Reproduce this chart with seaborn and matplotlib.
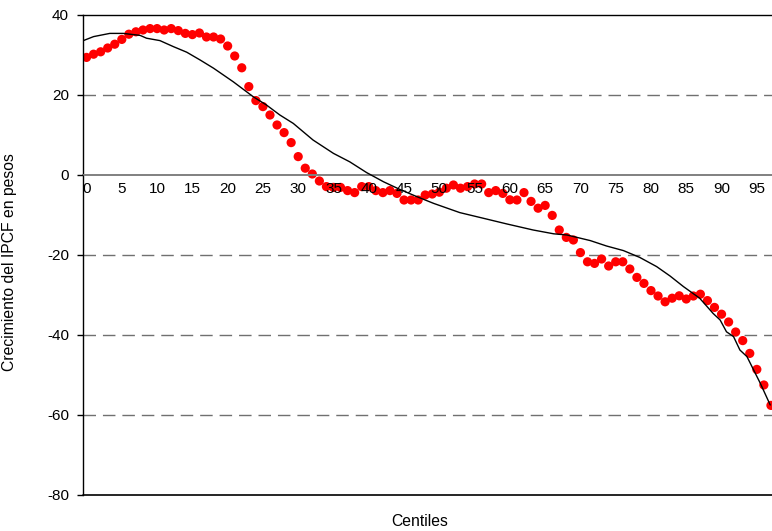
import numpy as np
import pandas as pd
import matplotlib
matplotlib.use("Agg")
import matplotlib.pyplot as plt
import seaborn as sns

# red dots: crecimiento por centil (0..97)
centiles = list(range(98))
crecimiento = [
    29.4, 30.2, 30.8, 31.75, 32.7, 33.9, 35.2, 35.8, 36.25, 36.6,
    36.6, 36.25, 36.6, 36.1, 35.4, 35.1, 35.5, 34.5, 34.5, 34.0,
    32.25, 29.75, 26.8, 22.1, 18.6, 17.1, 15.0, 12.5, 10.6, 8.1,
    4.6, 1.7, 0.25, -1.5, -2.9, -3.1, -3.1, -3.9, -4.4, -2.9,
    -2.9, -3.9, -4.4, -3.9, -4.6, -6.25, -6.25, -6.25, -5.0, -4.75,
    -4.3, -3.3, -2.5, -3.3, -2.9, -2.25, -2.25, -4.4, -3.9, -4.6,
    -6.2, -6.25, -4.4, -6.6, -8.3, -7.6, -10.1, -13.75, -15.6, -16.25,
    -19.4, -21.7, -22.1, -21.0, -22.75, -21.7, -21.7, -23.5, -25.6, -27.1,
    -28.9, -30.25, -31.7, -30.8, -30.2, -31.0, -30.25, -29.8, -31.4, -33.1,
    -34.8, -36.75, -39.25, -41.4, -44.6, -48.6, -52.5, -57.6,
]

# black smoothed curve
suav_x = [-0.45, 1.0, 3.3, 5.2, 7.6, 8.5, 10.4, 12.3, 14.2, 16.1, 18.0,
          20.8, 23.6, 25.5, 27.4, 29.3, 32.1, 35.0, 37.3, 39.7, 42.1,
          44.4, 46.8, 49.2, 52.9, 56.2, 59.6, 63.3, 66.2, 68.1, 71.4,
          73.7, 76.1, 78.4, 80.8, 82.7, 84.6, 86.9, 88.8, 89.8, 90.7,
          91.7, 92.6, 93.6, 95.5, 96.9]
suav_y = [33.6, 34.6, 35.4, 35.4, 34.9, 34.2, 33.6, 32.1, 30.7, 28.75, 26.7,
          23.3, 19.6, 17.5, 15.0, 12.9, 8.75, 5.4, 3.3, 0.6, -1.7,
          -3.6, -5.4, -7.1, -9.4, -10.8, -12.25, -13.75, -14.7, -15.0, -16.4,
          -17.75, -18.9, -20.6, -22.9, -25.25, -27.9, -30.8, -34.6, -36.25, -39.2,
          -40.4, -43.75, -45.4, -52.1, -57.5]

yticks = [40, 20, 0, -20, -40, -60, -80]
xticks = list(range(0, 100, 5))

sns.set_style("white")
plt.rcParams["font.family"] = ["Liberation Sans", "DejaVu Sans"]
plt.rcParams["axes.unicode_minus"] = False
for k in ["text.color", "axes.labelcolor", "xtick.color", "ytick.color"]:
    plt.rcParams[k] = "black"

puntos = pd.DataFrame({"centil": centiles, "crec": crecimiento})
curva = pd.DataFrame({"centil": suav_x, "crec": suav_y})

fig = plt.figure(figsize=(7.72, 5.31), dpi=100)
ax = fig.add_axes([83 / 772, 36 / 531, 689 / 772, 480 / 531])

for g in [20, -20, -40, -60]:
    ax.axhline(g, color="#707070", lw=1, dashes=(9, 5), zorder=1)

sns.lineplot(data=curva, x="centil", y="crec", ax=ax, color="black",
             lw=1, sort=False, estimator=None, zorder=3)
sns.scatterplot(data=puntos, x="centil", y="crec", ax=ax, color="red",
                s=44, edgecolor="none", zorder=2)

ax.set_xlim(-0.5, 97.15)
ax.set_ylim(-80, 40)
ax.set_yticks(yticks)
ax.set_xticks(xticks)
ax.set_axisbelow(False)

ax.spines["bottom"].set_position(("data", 0))
ax.spines["bottom"].set_color("#808080")
ax.spines["bottom"].set_linewidth(1.4)
ax.spines["right"].set_visible(False)
ax.spines["top"].set_color("black")
ax.spines["left"].set_color("black")
ax.spines["top"].set_linewidth(1)
ax.spines["left"].set_linewidth(1)
ax.axhline(-80, color="black", lw=1.2, clip_on=False, zorder=4)

ax.tick_params(axis="x", length=0, pad=5, labelsize=11)
ax.tick_params(axis="y", direction="out", length=4, width=1, pad=6,
               labelsize=11, left=True, color="black")

ax.set_xlabel("")
ax.set_ylabel("Crecimiento del IPCF en pesos", fontsize=11.3)
ax.yaxis.set_label_coords(-66 / 689, 0.485)
fig.text(420 / 772, 1 - 521 / 531, "Centiles", ha="center", va="center",
         fontsize=11.3)

fig.savefig("out.png", dpi=100)
